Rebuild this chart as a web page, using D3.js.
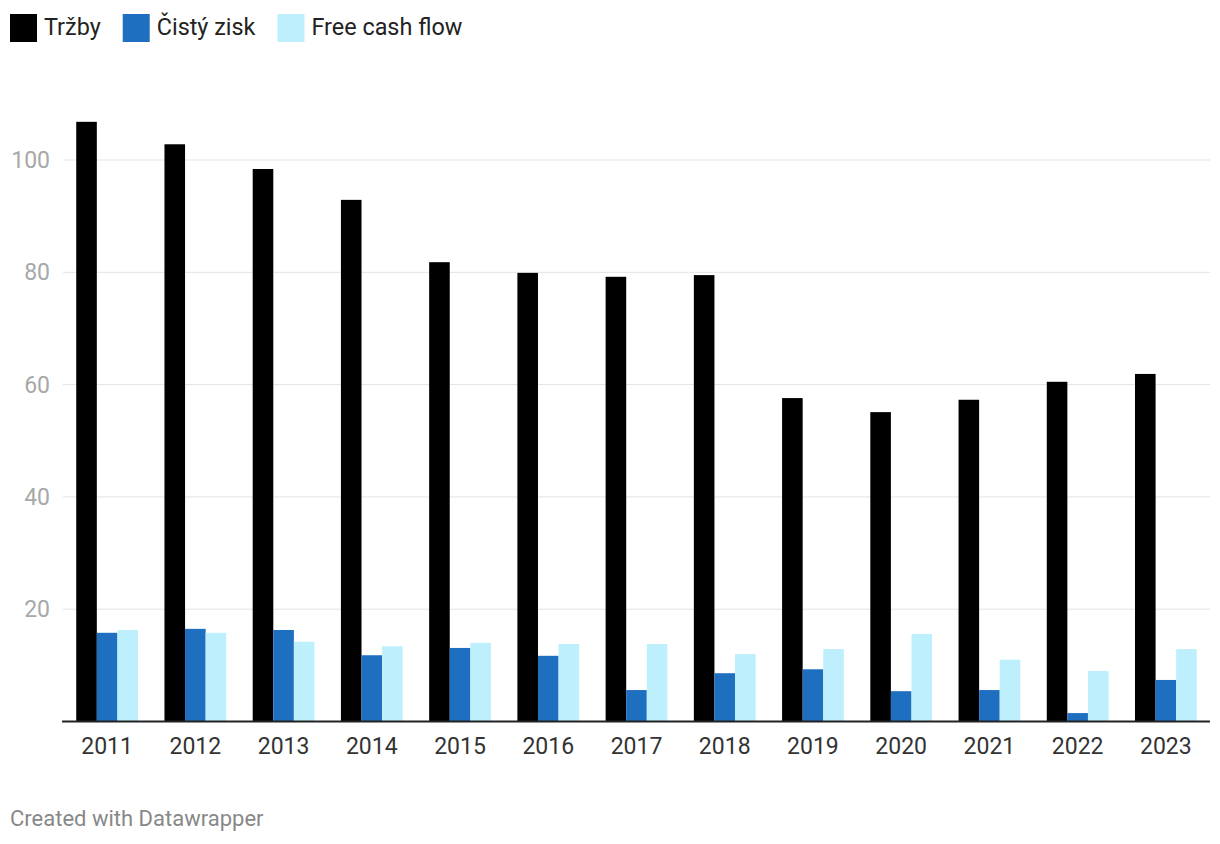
<!DOCTYPE html>
<html><head><meta charset="utf-8">
<script src="https://cdn.jsdelivr.net/npm/d3@7"></script>
<style>body{margin:0;background:#fff;font-family:Roboto,sans-serif;}</style>
</head><body>
<svg id="c" width="1220" height="844"></svg>
<script>
const years = ["2011","2012","2013","2014","2015","2016","2017","2018","2019","2020","2021","2022","2023"];
const trzby = [106.8,102.8,98.4,92.9,81.8,79.9,79.2,79.5,57.6,55.1,57.3,60.5,61.9];
const cistyZisk = [15.8,16.5,16.3,11.8,13.1,11.7,5.6,8.6,9.3,5.4,5.6,1.5,7.4];
const freeCashFlow = [16.3,15.8,14.2,13.4,14.0,13.8,13.8,12.0,12.9,15.6,11.0,9.0,12.9];
const seriesNames = ["Tržby","Čistý zisk","Free cash flow"];
const colors = ["#000000","#1f6fc1","#bdeffc"];
const yTicks = [20,40,60,80,100];

const series = [trzby, cistyZisk, freeCashFlow];
const svg = d3.select("#c");
const mLeft = 63, mRight = 1210, mBottom = 721.5;
const x = d3.scaleBand().domain(years).range([mLeft,mRight]).paddingInner(0.3).paddingOuter(0.15);
const xs = d3.scaleBand().domain(d3.range(3)).range([0,x.bandwidth()]);
const y = d3.scaleLinear().domain([0,100]).range([mBottom,160]);

// gridlines
svg.append("g").selectAll("line").data(yTicks).join("line")
  .attr("x1",mLeft).attr("x2",mRight).attr("y1",d=>y(d)).attr("y2",d=>y(d))
  .attr("stroke","#e3e3e3").attr("stroke-width",1);
svg.append("g").selectAll("text").data(yTicks).join("text")
  .attr("x",50).attr("y",d=>y(d)).attr("dy","0.35em").attr("text-anchor","end")
  .attr("font-size",23).attr("fill","#a8a8a8").text(d=>d);

// bars
years.forEach((yr,i)=>{
  series.forEach((s,j)=>{
    svg.append("rect").attr("x",x(yr)+xs(j)).attr("width",xs.bandwidth())
      .attr("y",y(s[i])).attr("height",mBottom-y(s[i])).attr("fill",colors[j]);
  });
});

// axis
svg.append("line").attr("x1",mLeft-1).attr("x2",mRight).attr("y1",mBottom).attr("y2",mBottom)
  .attr("stroke","#222").attr("stroke-width",2);
svg.append("g").selectAll("text").data(years).join("text")
  .attr("x",d=>x(d)+x.bandwidth()/2).attr("y",754).attr("text-anchor","middle")
  .attr("font-size",23).attr("fill","#333").text(d=>d);

// legend
const lg = svg.append("g");
let lx = 10;
seriesNames.forEach((n,j)=>{
  lg.append("rect").attr("x",lx).attr("y",14).attr("width",27).attr("height",28).attr("fill",colors[j]);
  const t = lg.append("text").attr("x",lx+34).attr("y",34.5).attr("font-size",23.4).attr("fill","#222").text(n);
  lx += 34 + t.node().getComputedTextLength() + 22;
});

svg.append("text").attr("x",10).attr("y",826).attr("font-size",22).attr("fill","#888").text("Created with Datawrapper");
</script>
</body></html>
